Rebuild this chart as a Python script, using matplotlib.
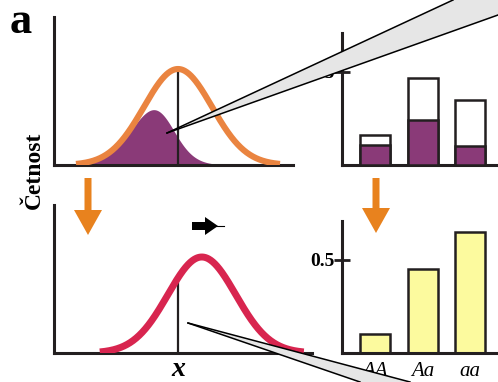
import numpy as np
import matplotlib
matplotlib.use("Agg")
import matplotlib.pyplot as plt
from matplotlib.patches import Polygon, FancyArrow

# ---------------- data ----------------
genotypes = ["AA", "Aa", "aa"]
freq_before_total = [0.16, 0.47, 0.35]     # top bars (white outline, total)
freq_before_selected = [0.11, 0.24, 0.10]  # top bars (purple, selected part)
freq_after = [0.10, 0.45, 0.65]            # bottom bars (yellow)
ytick_vals = [0.5]
ytick_labels = ["0.5"]

# schematic normal distributions (trait units: sd = 1)
mean_before = 0.0
mean_after = 0.7
sd = 1.0
peak = 1.0
sel_threshold = -0.33   # centre of the selection cut-off
sel_steepness = 0.36    # width of the selection cut-off
xlabel = "x"
ylabel = "Četnost"
panel_label = "a"

# ---------------- style ----------------
W, H = 498, 382
DARK = "#231f20"
ORANGE = "#ea8440"
RED = "#d8254f"
PURPLE = "#8a3a78"
YELLOW = "#fcfa9e"
ARROW_OR = "#e8821e"
WEDGE = "#e6e6e6"
SERIF = "Liberation Serif"
SPINE_LW = 2.2

fig = plt.figure(figsize=(W / 100, H / 100), dpi=100)


def px_axes(x0, y0, x1, y1):
    return fig.add_axes([x0 / W, 1 - y1 / H, (x1 - x0) / W, (y1 - y0) / H])


def style(ax):
    for s in ("top", "right"):
        ax.spines[s].set_visible(False)
    for s in ("left", "bottom"):
        ax.spines[s].set_linewidth(SPINE_LW)
        ax.spines[s].set_color(DARK)
    ax.patch.set_visible(False)


def normal(x, mu):
    return peak * np.exp(-0.5 * ((x - mu) / sd) ** 2)


PX_PER_SD = 34.0

# ---------- top-left: distribution before selection ----------
ax1 = px_axes(54, 17, 293, 165)
style(ax1)
ax1.set_xlim((54 - 178) / PX_PER_SD, (293 - 178) / PX_PER_SD)
ax1.set_ylim(0, 148 / 96)
xs = np.linspace(mean_before - 3 * sd, mean_before + 3 * sd, 400)
ys = normal(xs, mean_before)
w = 1 / (1 + np.exp((xs - sel_threshold) / sel_steepness))
ax1.fill_between(xs, 0, ys * w, color=PURPLE, lw=0, zorder=1)
ax1.plot(xs, ys, color=ORANGE, lw=4.4, solid_capstyle="butt", zorder=3)
ax1.plot([mean_before, mean_before], [0, normal(mean_before, mean_before)],
         color=DARK, lw=1.6, zorder=2)
ax1.set_xticks([])
ax1.set_yticks([])

# ---------- bottom-left: distribution after selection ----------
ax2 = px_axes(54, 205, 312, 353)
style(ax2)
ax2.set_xlim((54 - 178) / PX_PER_SD, (312 - 178) / PX_PER_SD)
ax2.set_ylim(0, 148 / 96)
xs2 = np.linspace(mean_after - 3 * sd, mean_after + 3 * sd, 400)
ax2.plot(xs2, normal(xs2, mean_after), color=RED, lw=5.0,
         solid_capstyle="butt", zorder=3)
ax2.plot([mean_before, mean_before], [0, normal(mean_before, mean_after)],
         color=DARK, lw=1.6, zorder=2)
ax2.set_yticks([])
ax2.set_xticks([mean_before])
ax2.set_xticklabels([xlabel], family=SERIF, style="italic",
                    weight="bold", fontsize=20)
ax2.tick_params(axis="x", length=0, pad=3)

# ---------- right panels: genotype frequencies ----------
pos = np.arange(len(genotypes))
BW = 30 / 47.5
XL = ((341.5 - 375) / 47.5, (498 - 375) / 47.5)


def bar_axes(y0, y1):
    ax = px_axes(341.5, y0, 498, y1)
    style(ax)
    ax.set_xlim(*XL)
    ax.set_ylim(0, (y1 - y0) / 186)
    ax.set_yticks(ytick_vals)
    ax.set_yticklabels(ytick_labels, family=SERIF, weight="bold", fontsize=14)
    ax.tick_params(axis="y", direction="inout", length=12, width=2.0,
                   color=DARK, pad=-1)
    return ax


ax3 = bar_axes(33, 165)
ax3.bar(pos, freq_before_total, width=BW, color="white", edgecolor=DARK,
        linewidth=1.8, zorder=2)
ax3.bar(pos, freq_before_selected, width=BW, color=PURPLE, edgecolor=DARK,
        linewidth=1.8, zorder=3)
ax3.set_xticks([])

ax4 = bar_axes(221, 353)
ax4.bar(pos, freq_after, width=BW, color=YELLOW, edgecolor=DARK,
        linewidth=1.8, zorder=2)
ax4.set_xticks(pos)
ax4.set_xticklabels(genotypes, family=SERIF, style="italic", fontsize=15)
ax4.tick_params(axis="x", length=0, pad=6.5)

# ---------- overlay: arrows, wedges, labels ----------
ov = fig.add_axes([0, 0, 1, 1])
ov.set_xlim(0, W)
ov.set_ylim(H, 0)
ov.axis("off")
ov.patch.set_visible(False)

# callout wedges
ov.add_patch(Polygon([(167, 133), (453, 0), (498, 0), (498, 15)],
                     closed=True, facecolor=WEDGE, edgecolor="none", zorder=5))
ov.plot([167, 453], [133, 0], color="black", lw=1.1, zorder=6)
ov.plot([167, 498], [133, 15], color="black", lw=1.1, zorder=6)
ov.add_patch(Polygon([(188, 323), (410, 382), (360, 382)],
                     closed=True, facecolor=WEDGE, edgecolor="none", zorder=5))
ov.plot([188, 410], [323, 382], color="black", lw=1.1, zorder=6)
ov.plot([188, 360], [323, 382], color="black", lw=1.1, zorder=6)

# orange down arrows
for ax_x, y_end in ((88, 235), (376, 233)):
    ov.add_patch(FancyArrow(ax_x, 178, 0, y_end - 178, width=7,
                            head_width=28, head_length=25,
                            length_includes_head=True, color=ARROW_OR,
                            lw=0, zorder=4))

# black shift arrow
ov.add_patch(FancyArrow(192, 226, 26, 0, width=8, head_width=18,
                        head_length=13, length_includes_head=True,
                        color="black", lw=0, zorder=4))
ov.plot([212, 224], [226, 226], color="black", lw=0.8, zorder=4)

# texts
ov.text(10, 33, panel_label, family=SERIF, weight="bold", fontsize=32,
        ha="left", va="baseline")
ov.text(40, 170, ylabel, family=SERIF, weight="bold", fontsize=17,
        rotation=90, rotation_mode="anchor", ha="center", va="baseline")

fig.savefig("out.png", dpi=100)
